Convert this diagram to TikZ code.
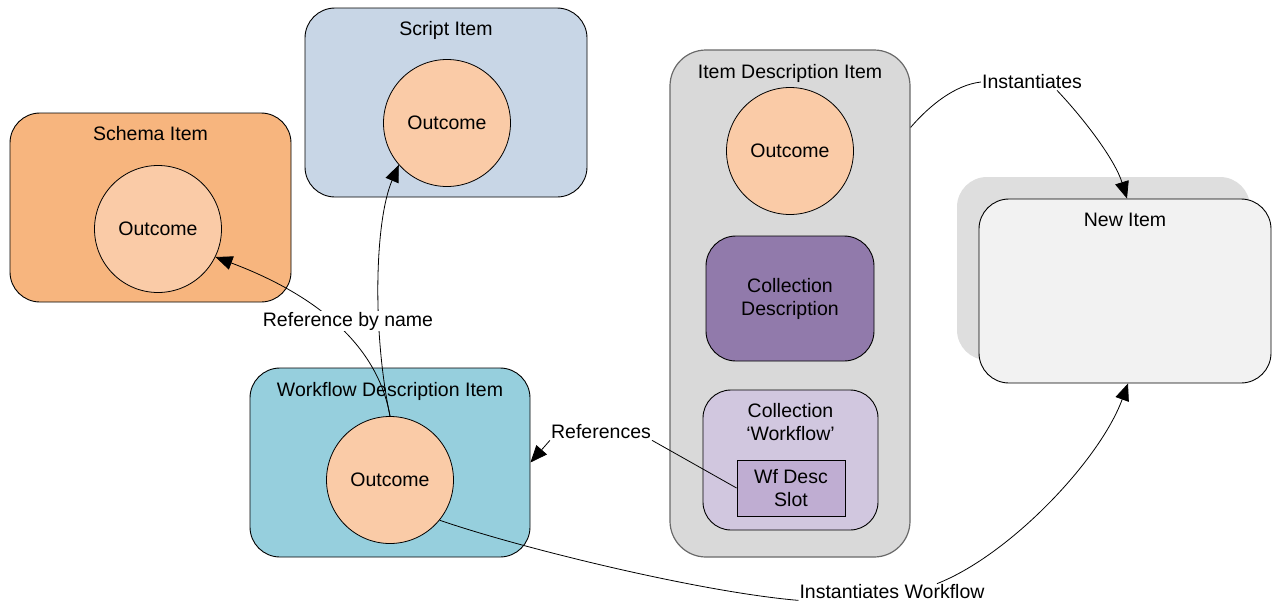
\documentclass[tikz,border=0pt]{standalone}
\usepackage{fontspec}
\setmainfont{Liberation Sans}
\usetikzlibrary{arrows.meta}

\definecolor{schemafill}{RGB}{247,181,126}
\definecolor{outcomefill}{RGB}{250,203,167}
\definecolor{scriptfill}{RGB}{200,214,230}
\definecolor{wffill}{RGB}{150,207,221}
\definecolor{idfill}{RGB}{217,217,217}
\definecolor{iddraw}{RGB}{105,105,105}
\definecolor{coldescfill}{RGB}{145,122,171}
\definecolor{colwffill}{RGB}{209,199,223}
\definecolor{slotfill}{RGB}{191,173,210}
\definecolor{newfill}{RGB}{242,242,242}
\definecolor{shadowfill}{RGB}{222,222,222}

\begin{document}
\begin{tikzpicture}[x=1pt,y=-1pt,
  every node/.style={font=\fontsize{19.5}{23}\selectfont, inner sep=1pt},
  itembox/.style={draw=black, line width=0.9pt, rounded corners=30pt},
  outcome/.style={circle, draw=black, line width=0.8pt, fill=outcomefill, minimum size=127pt},
  boxtitle/.style={anchor=base},
  lbl/.style={fill=white},
  conn/.style={draw=black, line width=0.8pt},
  tip/.style={-{Triangle[length=17pt,width=14pt]}}]

\useasboundingbox (0,0) rectangle (1272,603);

% --- item boxes -------------------------------------------------------
\node[itembox, fill=schemafill, minimum width=281pt, minimum height=189pt] (schema) at (150.5,207.5) {};
\node[boxtitle] (schemat) at ([yshift=-28pt]schema.north) {Schema Item};
\node[outcome] (scho) at (158,229) {Outcome};

\node[itembox, fill=scriptfill, minimum width=282pt, minimum height=189pt] (script) at (446,102.5) {};
\node[boxtitle] (scriptt) at ([yshift=-28pt]script.north) {Script Item};
\node[outcome] (so) at (447,123) {Outcome};

\node[itembox, fill=wffill, minimum width=280pt, minimum height=189pt] (wf) at (390,462.5) {};
\node[boxtitle] (wft) at ([yshift=-29pt]wf.north) {Workflow Description Item};
\node[outcome] (wfo) at (390,480) {Outcome};

\node[itembox, draw=iddraw, line width=1.2pt, fill=idfill, rounded corners=36pt,
      minimum width=240pt, minimum height=507pt] (idb) at (790,303.5) {};
\node[boxtitle] (idbt) at ([yshift=-29pt]idb.north) {Item Description Item};
\node[outcome] (ido) at (790,151) {Outcome};

\node[itembox, fill=coldescfill, minimum width=168pt, minimum height=125pt, align=center]
      (coldesc) at (790,298.5) {Collection\\Description};

\node[itembox, fill=colwffill, rounded corners=28pt, minimum width=175pt, minimum height=140pt]
      (colwf) at (790.5,460) {};
\node[align=center] (colwft) at (790.5,422.5) {Collection\\‘Workflow’};
\node[draw=black, line width=0.9pt, fill=slotfill, minimum width=108pt, minimum height=56pt,
      align=center] (slot) at (791,488) {Wf Desc\\Slot};

% New Item with its shadow
\node[rounded corners=30pt, fill=shadowfill, minimum width=293pt, minimum height=183pt]
      (nshadow) at (1103.5,268.5) {};
\node[itembox, fill=newfill, minimum width=292pt, minimum height=184pt] (nitem) at (1125,291) {};
\node[boxtitle] (nitemt) at ([yshift=-28pt]nitem.north) {New Item};

% --- connectors --------------------------------------------------------
\draw[conn,tip] (wfo.north) .. controls (372,330) and (375,220) .. (so.221);
\draw[conn,tip] (wfo.north) .. controls (375,330) and (290,285) .. (scho.-26);
\node[lbl] (refname) at (348,321) {Reference by name};

\node[lbl] (refs) at (601,432) {References};
\draw[conn] (slot.west) -- (refs.south east);
\draw[conn,tip] (refs.south west) -- (wf.east);

\node[lbl] (inst) at (1032,82) {Instantiates};
\draw[conn] ([yshift=-78pt]idb.north east) .. controls (930,105) and (955,85) .. (inst.west);
\draw[conn,tip] ([xshift=25pt]inst.south) .. controls (1085,120) and (1115,160) .. ([xshift=2pt]nitem.north);

\node[lbl] (iwf) at (892,592) {Instantiates Workflow};
\draw[conn] (wfo.-39) .. controls (520,548) and (700,592) .. (iwf.south west);
\draw[conn,tip] ([xshift=45pt]iwf.north) .. controls (1010,555) and (1100,460) .. ([xshift=3pt]nitem.south);

\end{tikzpicture}
\end{document}
